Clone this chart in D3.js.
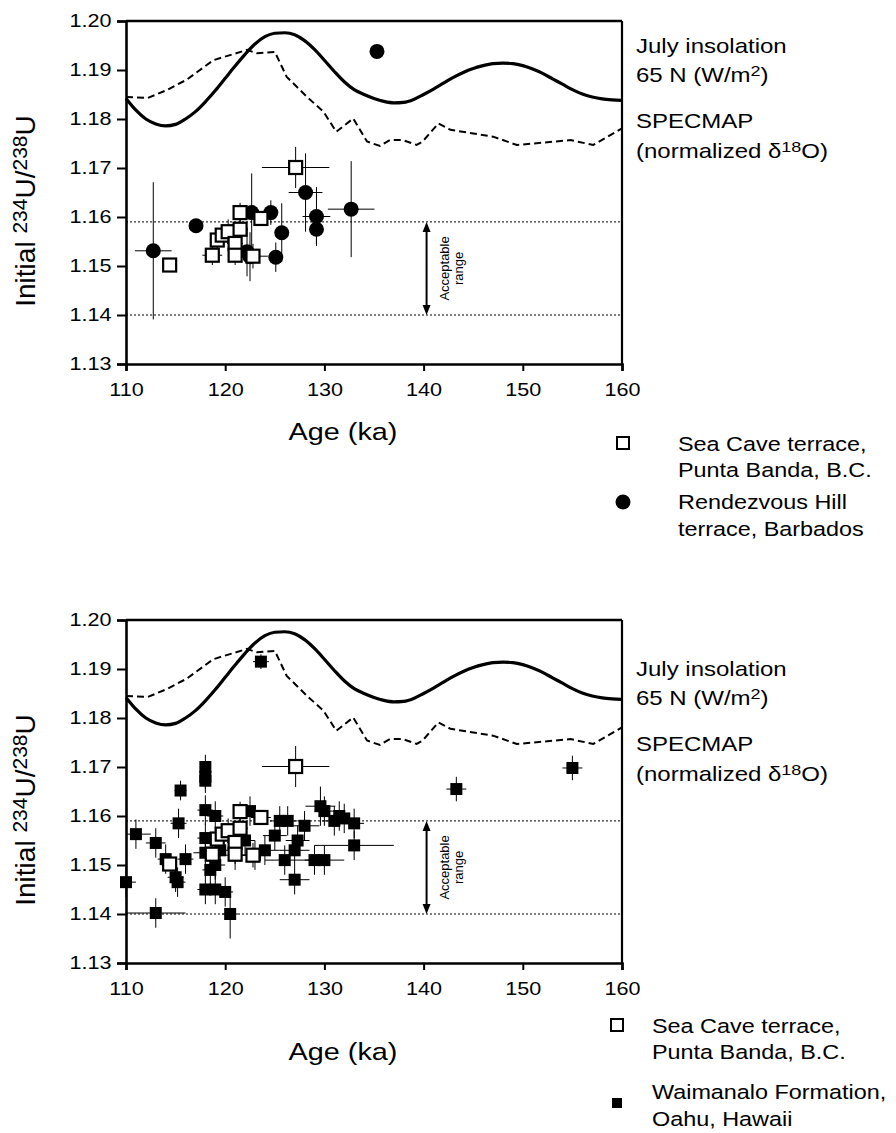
<!DOCTYPE html>
<html>
<head>
<meta charset="utf-8">
<script src="https://cdn.jsdelivr.net/npm/d3@7"></script>
<style>
body { margin: 0; background: #fff; }
text { font-family: "Liberation Sans", Arial, Helvetica, sans-serif; fill: #000; }
</style>
</head>
<body>
<svg width="896" height="1133"></svg>
<script>
// July insolation 65N (1 ka steps)
const insolAge = [110,111,112,113,114,115,116,117,118,119,120,121,122,123,124,125,126,127,128,129,130,
  131,132,133,134,135,136,137,138,139,140,141,142,143,144,145,146,147,148,149,150,
  151,152,153,154,155,156,157,158,159,160];
const insolValue = [1.1842,1.1818,1.1800,1.1790,1.1786,1.1789,1.1800,1.1815,1.1835,1.1858,1.1883,
  1.1908,1.1932,1.1953,1.1968,1.1975,1.1976,1.1972,1.1960,1.1942,1.1920,
  1.1897,1.1876,1.1860,1.1850,1.1842,1.1836,1.1833,1.1834,1.1840,1.1850,
  1.1861,1.1873,1.1885,1.1895,1.1903,1.1909,1.1913,1.1914,1.1913,1.1909,
  1.1902,1.1893,1.1882,1.1871,1.1860,1.1851,1.1845,1.1841,1.1839,1.1838];

// SPECMAP (normalized d18O)
const specAge = [110,112.2,114,116.1,118.8,122.2,123.2,125.0,126.2,128.2,129.9,131.2,132.9,134.3,135.6,
  136.6,137.9,139.3,139.9,141.5,142.7,147.0,149.4,154.8,157.1,160];
const specValue = [1.1845,1.1843,1.1858,1.1880,1.1920,1.1941,1.1934,1.1937,1.1886,1.1846,1.1815,1.1774,1.1801,1.1754,1.1745,
  1.1757,1.1757,1.1747,1.1754,1.1791,1.1778,1.1764,1.1747,1.1757,1.1747,1.1781];

const acceptable = [1.159, 1.140];
const xTicks = [110, 120, 130, 140, 150, 160];
const yTicks = [1.13, 1.14, 1.15, 1.16, 1.17, 1.18, 1.19, 1.20];

// Sea Cave terrace, Punta Banda
const caveAge    = [114.4, 127.1, 118.7, 119.2, 119.7, 120.3, 121.0, 121.5, 121.5, 121.0, 122.8, 123.6];
const caveU      = [1.1502, 1.1701, 1.1522, 1.1553, 1.1563, 1.1570, 1.1546, 1.1575, 1.1609, 1.1522, 1.1520, 1.1597];
const caveAgeErr = [0.3, 3.4, 1.0, 0.6, 0.6, 0.6, 0.8, 0.8, 0.6, 0.6, 1.5, 1.0];
const caveUErr   = [0.0010, 0.0042, 0.0020, 0.0020, 0.0020, 0.0025, 0.0020, 0.0030, 0.0020, 0.0020, 0.0025, 0.0015];

// Rendezvous Hill terrace, Barbados
const barbAge    = [112.75, 117.06, 122.67, 124.6, 128.1, 129.2, 129.2, 125.7, 125.1, 132.7, 122.2, 122.5, 135.3];
const barbU      = [1.1531, 1.1582, 1.1609, 1.1609, 1.1650, 1.1601, 1.1575, 1.1568, 1.1518, 1.1616, 1.1529, 1.1519, 1.1938];
const barbAgeErr = [1.85, 0.6, 0.4, 0.5, 1.7, 1.4, 0.5, 0.5, 0.5, 2.35, 0.4, 0.4, 0.3];
const barbUErr   = [0.0140, 0.0008, 0.0080, 0.0025, 0.0080, 0.0060, 0.0030, 0.0060, 0.0030, 0.0098, 0.0050, 0.0050, 0.0008];

// Waimanalo Formation, Oahu
const oahuAge = [110, 111, 113, 113, 114, 115, 115.2, 115.3, 115.5, 116, 118, 118, 118, 118, 118, 118, 118,
  118.5, 119, 119, 119, 119.5, 120, 120.5, 121, 121, 122, 122.5, 123, 123.6, 124, 125, 125.5, 126, 126.3,
  127, 127, 127.3, 128, 129, 129.6, 130, 130, 131, 131.5, 132, 133, 133, 143.3, 155];
const oahuU = [1.1465, 1.1563, 1.1402, 1.1545, 1.1512, 1.1475, 1.1465, 1.1585, 1.1652, 1.1512, 1.1700, 1.1680, 1.1672,
  1.1612, 1.1555, 1.1525, 1.1450, 1.1490, 1.1600, 1.1500, 1.1450, 1.1530, 1.1445, 1.1400, 1.1560, 1.1520, 1.1550, 1.1610,
  1.1520, 1.1915, 1.1530, 1.1560, 1.1590, 1.1510, 1.1590, 1.1470, 1.1530, 1.1550, 1.1580, 1.1510, 1.1620, 1.1610, 1.1510,
  1.1590, 1.1600, 1.1595, 1.1585, 1.1540, 1.1655, 1.1698];
const oahuAgeErr = [1.0, 1.5, 3.0, 1.0, 0.8, 0.8, 0.8, 0.8, 0.6, 0.8, 0.5, 0.5, 0.5, 0.8, 0.8, 1.2, 0.8,
  0.8, 0.8, 1.0, 0.8, 0.8, 0.8, 0.8, 1.5, 1.0, 1.0, 1.0, 1.5, 0.8, 1.5, 1.2, 1.0, 2.0, 1.0,
  1.5, 1.5, 1.2, 1.5, 1.0, 1.5, 1.0, 2.0, 1.2, 1.0, 1.0, 1.0, 4.0, 1.0, 1.0];
const oahuUErr = [0.0030, 0.0030, 0.0030, 0.0030, 0.0030, 0.0030, 0.0030, 0.0030, 0.0020, 0.0030, 0.0025, 0.0025, 0.0025,
  0.0030, 0.0030, 0.0030, 0.0030, 0.0030, 0.0030, 0.0030, 0.0030, 0.0030, 0.0030, 0.0050, 0.0030, 0.0030, 0.0030, 0.0030,
  0.0030, 0.0015, 0.0030, 0.0030, 0.0030, 0.0030, 0.0030, 0.0030, 0.0030, 0.0030, 0.0030, 0.0030, 0.0040, 0.0030, 0.0030,
  0.0030, 0.0030, 0.0030, 0.0030, 0.0030, 0.0025, 0.0025];

const svg = d3.select('svg');
const WIDE = 1.2; // the lettering of the original is set wide

const zip = (a, v, ae, ve) => a.map((x, i) => ({age: x, u: v[i], ae: ae[i], ue: ve[i]}));

// horizontal label, stretched a bit
const label = (parent, x, y, size) => parent.append('text')
    .attr('transform', `translate(${x},${y}) scale(${WIDE},1)`)
    .attr('font-size', size);

// text with superscript pieces: [['Initial ', 0], ['234', 1], ...]
const richText = (sel, parts) => {
    let up = false;
    parts.forEach(([t, sup]) => {
        const ts = sel.append('tspan').text(t);
        if (sup && !up) { ts.attr('dy', '-0.4em').attr('font-size', '0.75em'); up = true; }
        else if (sup) { ts.attr('font-size', '0.75em'); }
        else if (!sup && up) { ts.attr('dy', '0.3em'); up = false; }
    });
    return sel;
};

const panel = (top, filled, legend) => {
    const left = 126, width = 496, height = 343;
    const x = d3.scaleLinear().domain([110, 160]).range([left, left + width]);
    const y = d3.scaleLinear().domain([1.13, 1.20]).range([top + height, top]);
    const g = svg.append('g');

    // acceptable range dotted lines
    g.selectAll('line.acc').data(acceptable).enter().append('line')
        .attr('x1', x(110)).attr('x2', x(160))
        .attr('y1', d => y(d)).attr('y2', d => y(d))
        .attr('stroke', '#000').attr('stroke-width', 1).attr('stroke-dasharray', '2,2');

    // arrow
    const ax = x(140.3);
    g.append('line').attr('x1', ax).attr('x2', ax)
        .attr('y1', y(acceptable[0]) + 8).attr('y2', y(acceptable[1]) - 8)
        .attr('stroke', '#000').attr('stroke-width', 2);
    g.append('path').attr('d', `M${ax - 4},${y(acceptable[0]) + 10}L${ax},${y(acceptable[0])}L${ax + 4},${y(acceptable[0]) + 10}Z`);
    g.append('path').attr('d', `M${ax - 4},${y(acceptable[1]) - 10}L${ax},${y(acceptable[1])}L${ax + 4},${y(acceptable[1]) - 10}Z`);
    const midY = (y(acceptable[0]) + y(acceptable[1])) / 2;
    const lab = g.append('text').attr('transform', `translate(${ax + 22},${midY}) rotate(-90)`)
        .attr('text-anchor', 'middle').attr('font-size', 13);
    lab.append('tspan').attr('x', 0).attr('dy', 0).text('Acceptable');
    lab.append('tspan').attr('x', 0).attr('dy', 14).text('range');

    // curves
    const line = d3.line().x(d => x(d[0])).y(d => y(d[1])).curve(d3.curveMonotoneX);
    g.append('path').datum(insolAge.map((a, i) => [a, insolValue[i]]))
        .attr('d', line).attr('fill', 'none').attr('stroke', '#000').attr('stroke-width', 3.2);
    g.append('path').datum(specAge.map((a, i) => [a, specValue[i]]))
        .attr('d', d3.line().x(d => x(d[0])).y(d => y(d[1])))
        .attr('fill', 'none').attr('stroke', '#000').attr('stroke-width', 2).attr('stroke-dasharray', '7,4');

    // error bars
    const cave = zip(caveAge, caveU, caveAgeErr, caveUErr);
    const all = filled.data.concat(cave);
    const eb = g.append('g').attr('stroke', '#000').attr('stroke-width', 1);
    eb.selectAll('line.h').data(all).enter().append('line')
        .attr('x1', d => x(Math.max(110, d.age - d.ae))).attr('x2', d => x(d.age + d.ae))
        .attr('y1', d => y(d.u)).attr('y2', d => y(d.u));
    eb.selectAll('line.v').data(all).enter().append('line')
        .attr('x1', d => x(d.age)).attr('x2', d => x(d.age))
        .attr('y1', d => y(d.u - d.ue)).attr('y2', d => y(d.u + d.ue));

    // filled markers
    if (filled.shape === 'circle') {
        g.selectAll('circle.f').data(filled.data).enter().append('circle')
            .attr('cx', d => x(d.age)).attr('cy', d => y(d.u)).attr('r', 7.5).attr('fill', '#000');
    } else {
        g.selectAll('rect.f').data(filled.data).enter().append('rect')
            .attr('x', d => x(d.age) - 6).attr('y', d => y(d.u) - 6)
            .attr('width', 12).attr('height', 12).attr('fill', '#000');
    }
    // open squares
    g.selectAll('rect.o').data(cave).enter().append('rect')
        .attr('x', d => x(d.age) - 6.5).attr('y', d => y(d.u) - 6.5)
        .attr('width', 13).attr('height', 13)
        .attr('fill', '#fff').attr('stroke', '#000').attr('stroke-width', 2.2);

    // axes
    const xAxis = d3.axisBottom(x).tickValues(xTicks).tickSize(7).tickPadding(6).tickFormat(d3.format('d'));
    const yAxis = d3.axisLeft(y).tickValues(yTicks).tickSize(9).tickPadding(3).tickFormat(d3.format('.2f'));
    const xg = g.append('g').attr('transform', `translate(0,${top + height})`).call(xAxis);
    const yg = g.append('g').attr('transform', `translate(${left},0)`).call(yAxis);
    [xg, yg].forEach(a => {
        a.select('.domain').attr('stroke-width', 2.6);
        a.selectAll('.tick line').attr('stroke-width', 2);
        a.selectAll('.tick text').attr('font-size', 18)
            .attr('font-family', '"Liberation Sans", Arial, sans-serif')
            .attr('transform', `scale(${WIDE},1)`);
    });
    xg.selectAll('.tick text').attr('dy', '1.05em');
    // frame top and right
    g.append('line').attr('x1', left).attr('x2', left + width).attr('y1', top).attr('y2', top)
        .attr('stroke', '#000').attr('stroke-width', 2.6);
    g.append('line').attr('x1', left + width).attr('x2', left + width).attr('y1', top).attr('y2', top + height)
        .attr('stroke', '#000').attr('stroke-width', 2.2);

    // axis titles
    label(g, 343, top + height + legend.ageDy, 24).attr('text-anchor', 'middle').text('Age (ka)');
    richText(g.append('text').attr('transform', `translate(35,${top + 190}) rotate(-90)`)
        .attr('text-anchor', 'middle').attr('font-size', 28),
        [['Initial ', 0], ['234', 1], ['U/', 0], ['238', 1], ['U', 0]]);

    // right-hand curve labels
    const rx = 636, ry = top + legend.labelDy;
    label(g, rx, ry, 20).text('July insolation');
    richText(label(g, rx, ry + 29, 20), [['65 N (W/m', 0], ['2', 1], [')', 0]]);
    label(g, rx, ry + 75, 20).text('SPECMAP');
    richText(label(g, rx, ry + 105, 20), [['(normalized \u03b4', 0], ['18', 1], ['O)', 0]]);

    // legend
    const lg = g.append('g');
    lg.append('rect').attr('x', legend.mx - 6).attr('y', legend.y1 - 6).attr('width', 12).attr('height', 12)
        .attr('fill', '#fff').attr('stroke', '#000').attr('stroke-width', 2);
    label(lg, legend.tx, legend.y1 + 8, 19.5).text('Sea Cave terrace,');
    label(lg, legend.tx, legend.y1 + 34, 19.5).text('Punta Banda, B.C.');
    if (filled.shape === 'circle') {
        lg.append('circle').attr('cx', legend.mx).attr('cy', legend.y2).attr('r', 7.5);
    } else {
        lg.append('rect').attr('x', legend.mx - 5).attr('y', legend.y2 - 5).attr('width', 10).attr('height', 10);
    }
    label(lg, legend.tx, legend.y2 + legend.t2dy, 19.5).text(filled.label[0]);
    label(lg, legend.tx, legend.y2 + legend.t2dy + 27, 19.5).text(filled.label[1]);
};

panel(21,
    {shape: 'circle', data: zip(barbAge, barbU, barbAgeErr, barbUErr), label: ['Rendezvous Hill', 'terrace, Barbados']},
    {ageDy: 76, labelDy: 32, mx: 623, tx: 678, y1: 443, y2: 502, t2dy: 7});
panel(620,
    {shape: 'square', data: zip(oahuAge, oahuU, oahuAgeErr, oahuUErr), label: ['Waimanalo Formation,', 'Oahu, Hawaii']},
    {ageDy: 97, labelDy: 56, mx: 617, tx: 652, y1: 1025, y2: 1103, t2dy: -4});
</script>
</body>
</html>
